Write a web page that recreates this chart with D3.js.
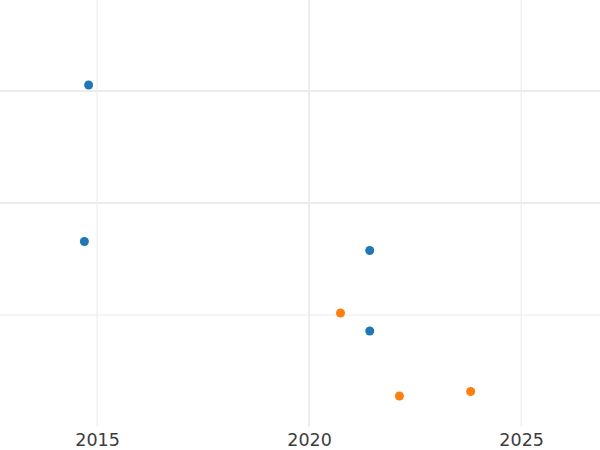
<!DOCTYPE html>
<meta charset="utf-8">
<style>
  body { margin: 0; background: #fff; }
  .tick text { font: 17.5px "DejaVu Sans", sans-serif; fill: #3d3d3d; }
</style>
<svg width="600" height="450"></svg>
<script src="https://d3js.org/d3.v7.min.js"></script>
<script>
  // series values
  var blueX = [2014.80, 2014.70, 2021.43, 2021.43];
  var blueY = [3.054, 1.656, 1.576, 0.857];
  var orangeX = [2020.74, 2022.13, 2023.81];
  var orangeY = [1.018, 0.277, 0.317];
  var xTicks = [2015, 2020, 2025];
  var yTicks = [1, 2, 3];

  var svg = d3.select("svg"),
    width = +svg.attr("width"),
    plotBottom = 427;

  var x = d3.scaleLinear().domain([2012.71, 2026.86]).range([0, width]);
  var y = d3.scaleLinear().domain([0, 1]).range([plotBottom, plotBottom - 112]);

  var g = svg.append("g");

  // grid
  g.selectAll(".vgrid")
    .data(xTicks)
    .enter().append("line")
    .attr("x1", d => x(d)).attr("x2", d => x(d))
    .attr("y1", 0).attr("y2", plotBottom)
    .attr("stroke", "#ebebeb")
    .attr("stroke-width", d => d == 2020 ? 2 : 1);

  g.selectAll(".hgrid")
    .data(yTicks)
    .enter().append("line")
    .attr("x1", 0).attr("x2", width)
    .attr("y1", d => y(d)).attr("y2", d => y(d))
    .attr("stroke", "#ebebeb")
    .attr("stroke-width", d => d == 1 ? 1 : 2);

  var xAxis = g.append("g")
    .attr("transform", "translate(0," + plotBottom + ")")
    .call(d3.axisBottom(x).tickValues(xTicks).tickFormat(d3.format("d")).tickSize(0).tickPadding(7));
  xAxis.select(".domain").remove();

  function dots(xs, ys, colour) {
    g.selectAll(null)
      .data(xs.map((d, i) => [d, ys[i]]))
      .enter().append("circle")
      .attr("cx", d => x(d[0]))
      .attr("cy", d => y(d[1]))
      .attr("r", 4.5)
      .attr("fill", colour);
  }
  dots(blueX, blueY, "#1f77b4");
  dots(orangeX, orangeY, "#ff7f0e");
</script>
